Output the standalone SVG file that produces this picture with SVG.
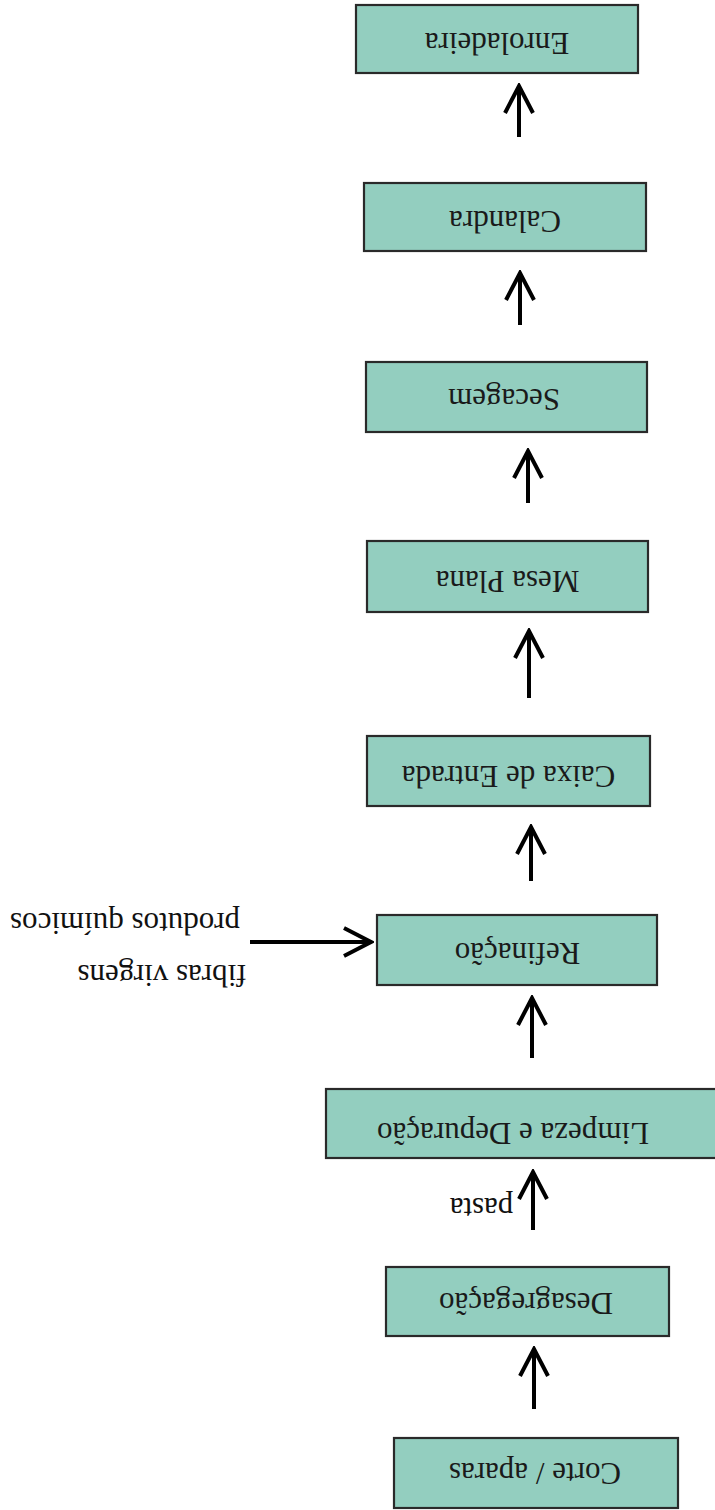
<svg xmlns="http://www.w3.org/2000/svg" width="715" height="1510" viewBox="0 0 715 1510">
<style>
.box{fill:#93cebf;stroke:#2a2a2a;stroke-width:2.2}
.lbl{font-family:"Liberation Serif","Times New Roman",serif;font-size:31px;fill:#1a1a1a;text-anchor:middle}
.side{font-family:"Liberation Serif","Times New Roman",serif;font-size:31px;fill:#111;text-anchor:middle}
.conn{stroke:#000;stroke-width:4;fill:none;marker-end:url(#chev)}
</style>
<defs>
<marker id="chev" markerUnits="userSpaceOnUse" viewBox="0 0 32 32" markerWidth="32" markerHeight="32" refX="29" refY="16" orient="auto">
<path d="M2,2 L29,16 L2,30" fill="none" stroke="#000" stroke-width="4" stroke-linejoin="miter"/>
</marker>
</defs>
<rect width="715" height="1510" fill="#fff"/>
<g id="connectors">
<line class="conn" x1="519" y1="137" x2="519" y2="86"/>
<line class="conn" x1="520" y1="325" x2="520" y2="273"/>
<line class="conn" x1="528" y1="503" x2="528" y2="451"/>
<line class="conn" x1="529" y1="698" x2="529" y2="631"/>
<line class="conn" x1="531" y1="881" x2="531" y2="827"/>
<line class="conn" x1="532" y1="1058" x2="532" y2="998"/>
<line class="conn" x1="533" y1="1230" x2="533" y2="1172"/>
<line class="conn" x1="534" y1="1409" x2="534" y2="1349"/>
<line class="conn" x1="250" y1="942" x2="371" y2="942"/>
<text class="side" transform="rotate(180 125 913)" x="125" y="913">produtos químicos</text>
<text class="side" transform="rotate(180 162 965)" x="162" y="965">fibras virgens</text>
<text class="side" transform="rotate(180 481.5 1198)" x="481.5" y="1198">pasta</text>
</g>
<g id="enroladeira">
<rect class="box" x="356" y="5" width="282" height="68"/>
<text class="lbl" transform="rotate(180 497 43)" x="497" y="53">Enroladeira</text>
</g>
<g id="calandra">
<rect class="box" x="364" y="183" width="282" height="68"/>
<text class="lbl" transform="rotate(180 505 221)" x="505" y="231">Calandra</text>
</g>
<g id="secagem">
<rect class="box" x="366" y="362" width="281" height="70"/>
<text class="lbl" transform="rotate(180 504 399)" x="504" y="409">Secagem</text>
</g>
<g id="mesa-plana">
<rect class="box" x="367" y="541" width="281" height="71"/>
<text class="lbl" transform="rotate(180 507.5 581)" x="507.5" y="591">Mesa Plana</text>
</g>
<g id="caixa-de-entrada">
<rect class="box" x="367" y="736" width="283" height="70"/>
<text class="lbl" transform="rotate(180 508.5 776)" x="508.5" y="786">Caixa de Entrada</text>
</g>
<g id="refinacao">
<rect class="box" x="377" y="915" width="280" height="70"/>
<text class="lbl" transform="rotate(180 517.5 953)" x="517.5" y="963">Refinação</text>
</g>
<g id="limpeza-e-depuracao">
<rect class="box" x="326" y="1089" width="400" height="69"/>
<text class="lbl" transform="rotate(180 513 1133)" x="513" y="1143">Limpeza e Depuração</text>
</g>
<g id="desagregacao">
<rect class="box" x="386" y="1267" width="283" height="69"/>
<text class="lbl" transform="rotate(180 526 1303)" x="526" y="1313">Desagregação</text>
</g>
<g id="corte-aparas">
<rect class="box" x="394" y="1438" width="284" height="70"/>
<text class="lbl" transform="rotate(180 535 1473)" x="535" y="1483">Corte / aparas</text>
</g>
</svg>
